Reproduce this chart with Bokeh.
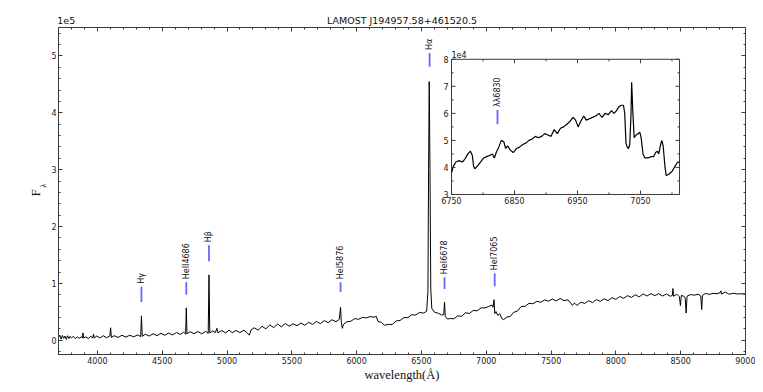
import math
from bokeh.plotting import figure
from bokeh.models import (Range1d, LinearAxis, SingleIntervalTicker, FixedTicker,
                          CustomJSTickFormatter, ColumnDataSource)
from bokeh.embed import file_html
from bokeh.resources import INLINE
from bokeh.core.properties import value

TITLE = "LAMOST J194957.58+461520.5"

# ---- main spectrum (wavelength in Angstrom, flux in counts) ----
wave = [3700, 3710, 3720, 3730, 3740, 3750, 3760, 3770, 3780, 3790,
        3800, 3815, 3830, 3845, 3860, 3875, 3884, 3889, 3894, 3910,
        3930, 3950, 3964, 3970, 3976, 3995, 4020, 4045, 4070, 4096,
        4102, 4108, 4130, 4160, 4190, 4220, 4250, 4280, 4310, 4334,
        4340, 4346, 4370, 4400, 4430, 4460, 4490, 4520, 4550, 4580,
        4610, 4640, 4665, 4681, 4686, 4691, 4715, 4745, 4775, 4805,
        4835, 4855, 4861, 4867, 4890, 4910, 4922, 4930, 4960, 4990,
        5016, 5040, 5070, 5100, 5130, 5155, 5172, 5185, 5210, 5240,
        5270, 5300, 5330, 5360, 5390, 5420, 5450, 5480, 5510, 5540,
        5570, 5600, 5630, 5660, 5690, 5720, 5750, 5780, 5810, 5840,
        5866, 5876, 5882, 5890, 5898, 5925, 5955, 5985, 6015, 6045,
        6075, 6105, 6135, 6152, 6165, 6190, 6215, 6245, 6275, 6305,
        6335, 6365, 6395, 6425, 6455, 6485, 6515, 6540, 6550, 6555,
        6560, 6566, 6572, 6580, 6600, 6630, 6655, 6672, 6678, 6684,
        6700, 6725, 6750, 6780, 6810, 6840, 6870, 6900, 6930, 6960,
        6990, 7020, 7045, 7052, 7060, 7066, 7075, 7088, 7105, 7120,
        7135, 7160, 7185, 7210, 7240, 7270, 7300, 7330, 7360, 7390,
        7420, 7450, 7480, 7510, 7540, 7570, 7600, 7630, 7650, 7665,
        7680, 7700, 7730, 7760, 7790, 7820, 7850, 7880, 7910, 7940,
        7970, 8000, 8030, 8060, 8090, 8120, 8150, 8180, 8210, 8240,
        8270, 8300, 8330, 8360, 8390, 8420, 8436, 8440, 8445, 8470,
        8490, 8498, 8505, 8525, 8535, 8542, 8549, 8575, 8605, 8635,
        8655, 8662, 8668, 8690, 8720, 8750, 8780, 8805, 8810, 8815,
        8845, 8875, 8905, 8935, 8965, 9000]
flux = [5000, 9000, 2000, 8500, 3500, 7500, 1500, 8000, 3000, 7000,
        4000, 7000, 3000, 6000, 3500, 6000, 4000, 13000, 4000, 6000,
        3000, 7000, 4000, 11000, 4000, 7500, 4000, 8000, 4500, 7500,
        22000, 5000, 8000, 5000, 8800, 5500, 9000, 6000, 9500, 6500,
        43000, 7000, 10800, 7400, 11500, 8200, 12200, 8800, 12800, 9400,
        13600, 10200, 14200, 11000, 57000, 11200, 15200, 11600, 15400, 11400,
        15600, 12200, 115000, 13000, 16600, 13400, 21000, 13200, 17200, 13000,
        18000, 13400, 17200, 13600, 17600, 13000, 9000, 18000, 22000, 17800,
        24600, 20200, 27000, 22400, 28400, 23800, 29400, 24800, 29000, 25400,
        30400, 26400, 31600, 27800, 33200, 29200, 34600, 31000, 36200, 32600,
        36800, 58000, 31000, 21000, 28000, 32600, 33400, 38200, 36800, 40200,
        39400, 41800, 40600, 42000, 33000, 31500, 26400, 28000, 27800, 34000,
        34800, 40000, 39800, 45000, 44400, 49000, 47800, 51000, 85000, 300000,
        455000, 300000, 90000, 56000, 49500, 47500, 44500, 45000, 67000, 42000,
        37400, 38200, 37800, 43000, 42200, 48500, 47200, 52500, 51800, 57000,
        57000, 59500, 62000, 58000, 71500, 47000, 50500, 44000, 46500, 38000,
        36500, 41000, 41800, 49000, 51200, 59500, 59800, 65000, 64200, 68500,
        66800, 71000, 68800, 72500, 69200, 73500, 69800, 71000, 65800, 61500,
        65500, 61400, 67000, 64800, 69500, 66400, 71500, 68400, 73000, 69800,
        75000, 71800, 77000, 73800, 78500, 75400, 80000, 76400, 81500, 77800,
        82000, 78400, 82000, 77800, 81400, 77400, 79000, 91000, 77400, 81000,
        76400, 61000, 78800, 77400, 74000, 48000, 77400, 80400, 79400, 80800,
        77800, 54000, 78800, 82400, 80800, 82400, 81800, 83800, 87000, 81200,
        84800, 80800, 82800, 81400, 81800, 81500]

# ---- inset spectrum ----
inset_wave = [6750, 6753, 6757, 6762, 6767, 6771, 6776, 6780, 6783, 6785,
              6787, 6791, 6796, 6801, 6806, 6811, 6815, 6818, 6821, 6825,
              6829, 6833, 6836, 6839, 6843, 6848, 6853, 6858, 6863, 6868,
              6873, 6878, 6883, 6888, 6893, 6898, 6903, 6908, 6913, 6918,
              6923, 6928, 6933, 6938, 6943, 6947, 6951, 6955, 6960, 6964,
              6969, 6974, 6979, 6984, 6989, 6994, 6999, 7004, 7008, 7012,
              7016, 7020, 7023, 7025, 7027, 7029, 7031, 7033, 7035, 7036,
              7038, 7040, 7043, 7046, 7049, 7051, 7054, 7057, 7062, 7067,
              7071, 7074, 7077, 7079, 7082, 7084, 7086, 7089, 7091, 7095,
              7100, 7105, 7109, 7112]
inset_flux = [38000, 40500, 42000, 42500, 42000, 43000, 45000, 46000, 44500, 40500,
              39500, 40500, 42000, 43500, 44000, 44500, 45000, 43500, 45500, 47500,
              50000, 49500, 47000, 48000, 46500, 45500, 47000, 47500, 48500, 49000,
              50000, 50500, 51500, 51000, 51500, 52500, 52000, 51500, 54000, 52500,
              54500, 55000, 56000, 57000, 58500, 57500, 55000, 57000, 59000, 57500,
              58000, 58500, 59000, 60000, 58500, 60000, 59500, 61000, 60000, 61000,
              62500, 63000, 63000, 60000, 49000, 47500, 47000, 48500, 60000, 71500,
              60000, 51000, 52000, 52500, 53000, 51000, 45000, 43500, 43500, 44000,
              44000, 45500, 46000, 45000, 48500, 50000, 48000, 40000, 37000, 37500,
              38500, 40500, 42000, 42000]

# ---- line identifications ----
line_names = ["Hγ", "HeII4686", "Hβ", "HeI5876", "Hα", "HeI6678", "HeI7065"]
line_waves = [4340, 4686, 4861, 5876, 6563, 6678, 7065]
bar_low = [67500, 80000, 139000, 85000, 481000, 90000, 95000]
bar_high = [94000, 102000, 167000, 102000, 505000, 111000, 118000]

inset_names = ["λλ6830"]
inset_mark_waves = [6823]
inset_bar_low = [56000]
inset_bar_high = [61200]

# ---- axes settings ----
main_xlim = (3700, 9000)
main_ylim = (-25000, 550000)
main_xtick_interval = 500
main_ytick_interval = 100000
inset_xlim = (6750, 7112)
inset_ylim = (30000, 80000)
inset_xticks = [6750, 6850, 6950, 7050]
inset_xminor = [6800, 6900, 7000, 7100]
inset_yticks = [30000, 40000, 50000, 60000, 70000, 80000]
inset_yminor = [35000, 45000, 55000, 65000, 75000]
# where the inset box sits, in the main plot's data coordinates
inset_box_x = (6732, 8491)
inset_box_y = (256400, 494100)
# anchors of the texts that sit outside the main frame
top_text_at = {3760: "1e5", 6350: TITLE}
ylabel_F_at = 259000
ylabel_sub_at = 272000

AXC = "#3a3a3a"
BAR = "#6666ff"
TXT = "#111111"
FONT = "DejaVu Sans"
SERIF = "Liberation Serif"

blank = CustomJSTickFormatter(code="return '';")


def style_axis(ax, labels=True):
    ax.axis_line_color = AXC
    ax.axis_line_width = 1
    ax.major_tick_in = 4
    ax.major_tick_out = 0
    ax.minor_tick_in = 2
    ax.minor_tick_out = 0
    ax.major_tick_line_color = AXC
    ax.minor_tick_line_color = AXC
    ax.major_label_text_font = FONT
    ax.major_label_text_font_size = "8px" if labels else "0px"
    ax.major_label_text_color = "#222222"
    ax.major_label_standoff = 2 if labels else 0


def text_axis(ticks, overrides, font, size, standoff, orientation="horizontal"):
    ax = LinearAxis(ticker=FixedTicker(ticks=ticks, minor_ticks=[]))
    ax.major_label_overrides = overrides
    ax.axis_line_color = None
    ax.major_tick_line_color = None
    ax.minor_tick_line_color = None
    ax.major_tick_in = 0
    ax.major_tick_out = 0
    ax.minor_tick_in = 0
    ax.minor_tick_out = 0
    ax.major_label_text_font = font
    ax.major_label_text_font_size = size
    ax.major_label_text_color = TXT
    ax.major_label_standoff = standoff
    ax.major_label_orientation = orientation
    return ax


# ---------------- main figure ----------------
p = figure(width=755, height=384, x_range=Range1d(*main_xlim),
           y_range=Range1d(*main_ylim), output_backend="svg",
           toolbar_location=None, min_border_left=58, min_border_right=10,
           min_border_top=27, min_border_bottom=28,
           background_fill_color="white", border_fill_color="white",
           outline_line_color=AXC)
p.grid.visible = False
xt = SingleIntervalTicker(interval=main_xtick_interval, num_minor_ticks=5)
yt = SingleIntervalTicker(interval=main_ytick_interval, num_minor_ticks=5)
bottom_ax = p.below[0]
left_ax = p.left[0]
bottom_ax.ticker = xt
left_ax.ticker = yt
left_ax.formatter = CustomJSTickFormatter(code="return (tick/1e5).toFixed(0);")
style_axis(bottom_ax)
style_axis(left_ax)

bottom_ax.axis_label = "wavelength(Å)"
bottom_ax.axis_label_text_font = SERIF
bottom_ax.axis_label_text_font_size = "12.5px"
bottom_ax.axis_label_text_font_style = "normal"
bottom_ax.axis_label_text_color = TXT
bottom_ax.axis_label_standoff = 1

top_ax = LinearAxis(ticker=xt, formatter=blank)
right_ax = LinearAxis(ticker=yt, formatter=blank)
style_axis(top_ax, labels=False)
style_axis(right_ax, labels=False)
p.add_layout(top_ax, "above")
p.add_layout(right_ax, "right")

# title row ("1e5" offset text and the title) above the frame
p.add_layout(text_axis(list(top_text_at), top_text_at, FONT, "9.5px", 2), "above")
# y label F_lambda: subscript lambda next to the frame, F further out
p.add_layout(text_axis([ylabel_sub_at], {ylabel_sub_at: "λ"}, SERIF, "9px", 0,
                       "vertical"), "left")
p.add_layout(text_axis([ylabel_F_at], {ylabel_F_at: "F"}, SERIF, "13px", -8,
                       "vertical"), "left")

src = ColumnDataSource(dict(wave=wave, flux=flux))
p.line(x="wave", y="flux", source=src, line_color="black", line_width=1)

p.segment(x0=line_waves, y0=bar_low, x1=line_waves, y1=bar_high,
          line_color=BAR, line_width=1.8)
p.text(x=line_waves, y=bar_high, text=line_names, angle=math.pi / 2,
       text_align="left", text_baseline="middle", text_font=value(FONT),
       text_font_size="8px", text_color=TXT, y_offset=-3)

# ---------------- inset (sub-coordinates inside the main frame) ----------------
sub = p.subplot(x_source=Range1d(*inset_xlim), y_source=Range1d(*inset_ylim),
                x_target=Range1d(*inset_box_x), y_target=Range1d(*inset_box_y))

sub.quad(left=[inset_xlim[0]], right=[inset_xlim[1]], bottom=[inset_ylim[0]],
         top=[inset_ylim[1]], fill_color="white", line_color=AXC, line_width=1)

isrc = ColumnDataSource(dict(wave=inset_wave, flux=inset_flux))
sub.line(x="wave", y="flux", source=isrc, line_color="black", line_width=1.2)

nx, ny = len(inset_xticks), len(inset_yticks)
for ticks, length in ((inset_xticks, 4), (inset_xminor, 2)):
    n = len(ticks)
    sub.ray(x=ticks, y=[inset_ylim[0]] * n, length=length, angle=math.pi / 2,
            length_units="screen", line_color=AXC, line_width=1)
    sub.ray(x=ticks, y=[inset_ylim[1]] * n, length=length, angle=-math.pi / 2,
            length_units="screen", line_color=AXC, line_width=1)
for ticks, length in ((inset_yticks, 4), (inset_yminor, 2)):
    n = len(ticks)
    sub.ray(x=[inset_xlim[0]] * n, y=ticks, length=length, angle=0,
            length_units="screen", line_color=AXC, line_width=1)
    sub.ray(x=[inset_xlim[1]] * n, y=ticks, length=length, angle=math.pi,
            length_units="screen", line_color=AXC, line_width=1)

sub.text(x=inset_xticks, y=[inset_ylim[0]] * nx,
         text=[str(t) for t in inset_xticks], text_align="center",
         text_baseline="top", y_offset=3, text_font=value(FONT),
         text_font_size="8px", text_color="#222222")
sub.text(x=[inset_xlim[0]] * ny, y=inset_yticks,
         text=[str(t // 10000) for t in inset_yticks], text_align="right",
         text_baseline="middle", x_offset=-3, text_font=value(FONT),
         text_font_size="8px", text_color="#222222")
sub.text(x=[inset_xlim[0]], y=[inset_ylim[1]], text=["1e4"], text_align="left",
         text_baseline="bottom", y_offset=-1, text_font=value(FONT),
         text_font_size="8px", text_color=TXT)

sub.segment(x0=inset_mark_waves, y0=inset_bar_low, x1=inset_mark_waves,
            y1=inset_bar_high, line_color=BAR, line_width=1.8)
sub.text(x=inset_mark_waves, y=inset_bar_high, text=inset_names,
         angle=math.pi / 2, text_align="left", text_baseline="middle",
         text_font=value(FONT), text_font_size="8px", text_color=TXT,
         y_offset=-3)

open("out.html", "w").write(file_html(p, INLINE))
